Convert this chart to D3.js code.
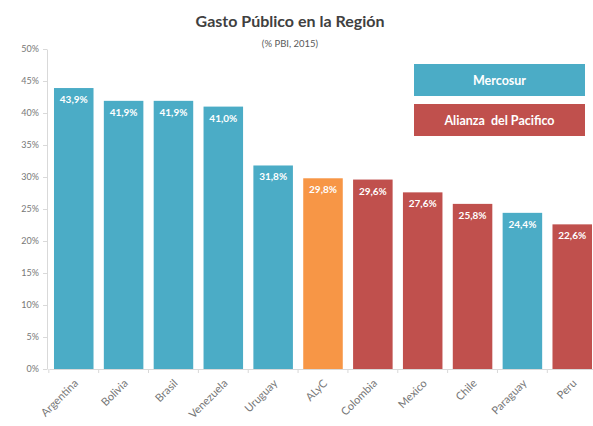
<!DOCTYPE html>
<html><head><meta charset="utf-8">
<script src="https://cdn.jsdelivr.net/npm/d3@7"></script>
<style>body{margin:0;background:#fff}svg{display:block;font-family:Lato,"Open Sans",sans-serif}</style>
</head><body><svg id="c" width="593" height="426"></svg>
<script>
const categories = ["Argentina","Bolivia","Brasil","Venezuela","Uruguay","ALyC","Colombia","Mexico","Chile","Paraguay","Peru"];
const values = [43.9,41.9,41.9,41.0,31.8,29.8,29.6,27.6,25.8,24.4,22.6];
const groups = ["M","M","M","M","M","A","P","P","P","M","P"];
const yTicks = [0,5,10,15,20,25,30,35,40,45,50];
const legendLabels = ["Mercosur","Alianza  del Pacifico"];
const colors = {M:"#4BACC6", P:"#C0504D", A:"#F79646"};

const svg = d3.select("#c");
const x = d3.scaleBand().domain(categories).range([49,597]).paddingInner(0.207).paddingOuter(0.1);
const y = d3.scaleLinear().domain([0,50]).range([369,49]);

svg.append("text").attr("x",290).attr("y",27).attr("text-anchor","middle")
  .attr("font-size",16).attr("font-weight","bold").attr("fill","#404040").text("Gasto Público en la Región");
svg.append("text").attr("x",290).attr("y",47).attr("text-anchor","middle")
  .attr("font-size",9.5).attr("fill","#595959").text("(% PBI, 2015)");

const ya = svg.append("g").attr("transform","translate(47,0)")
  .call(d3.axisLeft(y).tickValues(yTicks).tickFormat(d=>d+"%").tickSize(4).tickSizeOuter(0));
ya.select(".domain").attr("stroke","#d9d9d9");
ya.selectAll(".tick line").attr("stroke","#d9d9d9");
ya.selectAll(".tick text").attr("fill","#777").attr("font-size",9).attr("font-family","Lato,sans-serif").attr("x",-8);

const xa = svg.append("g").attr("transform","translate(0,369)")
  .call(d3.axisBottom(x).tickSize(0).tickSizeOuter(0));
xa.select(".domain").attr("stroke","#d9d9d9");
xa.selectAll(".tick text").attr("fill","#777").attr("font-size",11).attr("font-family","Lato,sans-serif")
  .attr("text-anchor","end").attr("dy",0).attr("y",0).attr("transform","translate(5,15) rotate(-45)");
// separator ticks between bands
svg.append("g").selectAll("line").data(categories).join("line")
  .attr("x1",d=>x(d)-x.step()*x.paddingInner()/2).attr("x2",d=>x(d)-x.step()*x.paddingInner()/2)
  .attr("y1",369).attr("y2",373).attr("stroke","#d9d9d9");

svg.append("g").selectAll("rect").data(categories).join("rect")
  .attr("x",d=>x(d)).attr("width",x.bandwidth())
  .attr("y",(d,i)=>y(values[i])).attr("height",(d,i)=>y(0)-y(values[i]))
  .attr("fill",(d,i)=>colors[groups[i]]);

svg.append("g").selectAll("text").data(categories).join("text")
  .attr("x",d=>x(d)+x.bandwidth()/2).attr("y",(d,i)=>y(values[i])+15)
  .attr("text-anchor","middle").attr("fill","#fff").attr("font-size",10).attr("font-weight","bold")
  .text((d,i)=>values[i].toFixed(1).replace(".",",")+"%");

const lg = svg.append("g");
[["M",64],["P",104]].forEach(([g,ty],i)=>{
  lg.append("rect").attr("x",414).attr("y",ty).attr("width",171).attr("height",32).attr("fill",colors[g]);
  lg.append("text").attr("x",499.5).attr("y",ty+20.5).attr("text-anchor","middle").attr("fill","#fff")
    .style("white-space","pre")
    .attr("font-size",12.5).attr("font-weight","bold").text(legendLabels[i]);
});
</script></body></html>
